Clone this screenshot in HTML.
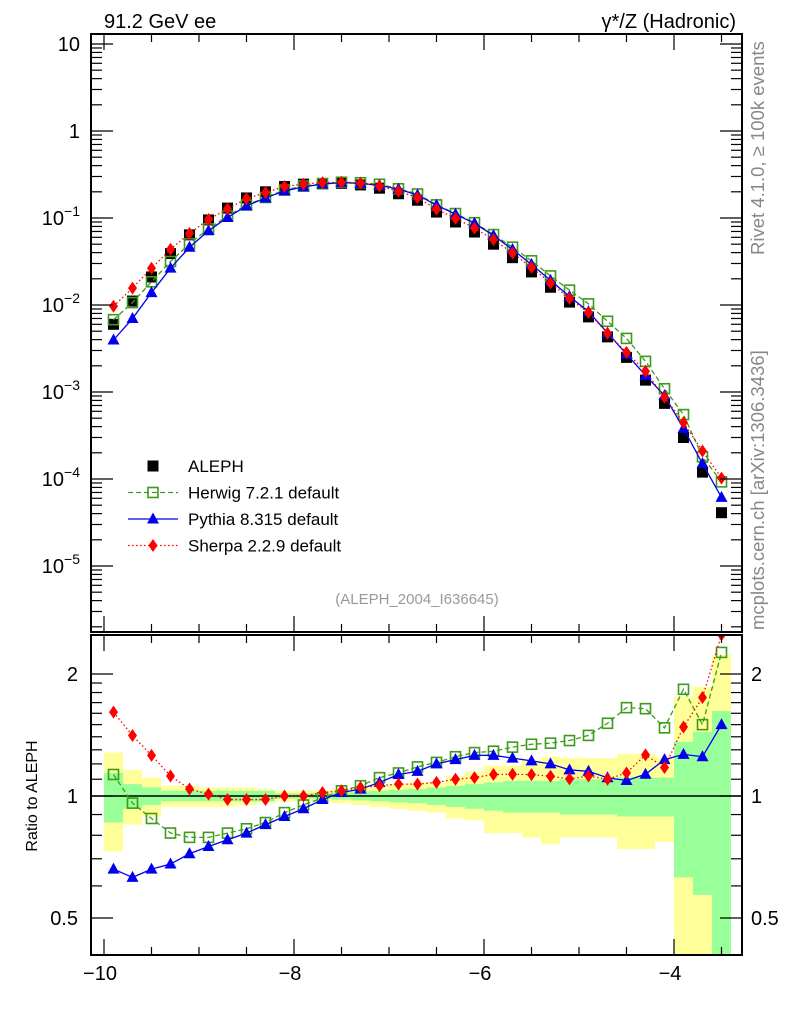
<!DOCTYPE html>
<html><head><meta charset="utf-8"><style>
body{margin:0;background:#fff}
svg{display:block;font-family:"Liberation Sans",sans-serif}
</style></head><body>
<svg id="c" width="786" height="1024" viewBox="0 0 786 1024"></svg>
<script>
const xs=[-9.9,-9.7,-9.5,-9.3,-9.1,-8.9,-8.7,-8.5,-8.3,-8.1,-7.9,-7.7,-7.5,-7.3,-7.1,-6.9,-6.7,-6.5,-6.3,-6.1,-5.9,-5.7,-5.5,-5.3,-5.1,-4.9,-4.7,-4.5,-4.3,-4.1,-3.9,-3.7,-3.5];
const aleph=[0.0060,0.0111,0.021,0.039,0.064,0.095,0.13,0.17,0.20,0.23,0.245,0.25,0.25,0.24,0.22,0.19,0.16,0.117,0.090,0.069,0.050,0.035,0.024,0.016,0.0108,0.0073,0.0043,0.0025,0.00137,0.00074,0.00030,0.00012,0.000041];
const herwig=[0.00678,0.01066,0.01848,0.0316,0.0506,0.0751,0.1053,0.1411,0.172,0.2093,0.2328,0.2475,0.2575,0.2544,0.2442,0.2166,0.1888,0.1416,0.1125,0.0883,0.0645,0.0462,0.0322,0.0216,0.0148,0.0103,0.0065,0.00413,0.00225,0.00109,0.00055,0.00018,0.0000927];
const pythia=[0.00396,0.00699,0.01386,0.0265,0.0461,0.0713,0.1014,0.1377,0.170,0.2047,0.2279,0.245,0.255,0.2496,0.2376,0.2147,0.184,0.1404,0.1107,0.0869,0.063,0.0434,0.0293,0.0192,0.01253,0.0084,0.00477,0.00273,0.00155,0.00091,0.00038,0.00015,0.0000615];
const sherpa=[0.00966,0.01565,0.02646,0.0437,0.0666,0.0960,0.1274,0.1666,0.196,0.23,0.245,0.255,0.2575,0.252,0.2332,0.2033,0.1712,0.1264,0.099,0.0766,0.0565,0.0396,0.0271,0.0179,0.0119,0.00818,0.00473,0.00285,0.00173,0.00087,0.000444,0.00021,0.0001025];
const yelUp=[1.28,1.16,1.11,1.06,1.06,1.05,1.05,1.05,1.04,1.03,1.03,1.03,1.04,1.05,1.06,1.07,1.08,1.08,1.12,1.15,1.19,1.19,1.23,1.25,1.24,1.24,1.24,1.27,1.27,1.25,1.76,1.86,2.23];
const yelDn=[0.73,0.85,0.89,0.94,0.94,0.94,0.94,0.95,0.96,0.97,0.97,0.97,0.96,0.95,0.94,0.93,0.92,0.91,0.88,0.87,0.81,0.81,0.79,0.76,0.79,0.79,0.79,0.74,0.74,0.77,0.3,0.3,0.3];
const grnUp=[1.14,1.07,1.05,1.03,1.03,1.03,1.03,1.03,1.03,1.015,1.015,1.015,1.02,1.025,1.03,1.035,1.04,1.05,1.06,1.07,1.08,1.09,1.09,1.09,1.10,1.10,1.10,1.11,1.11,1.11,1.36,1.44,1.62];
const grnDn=[0.86,0.93,0.95,0.97,0.97,0.97,0.97,0.97,0.97,0.985,0.985,0.985,0.98,0.975,0.97,0.965,0.96,0.95,0.94,0.93,0.92,0.91,0.91,0.91,0.90,0.90,0.90,0.89,0.89,0.89,0.63,0.57,0.3];
const xTicks=[-10,-8,-6,-4];
const yMainTicks=[1,0,-1,-2,-3,-4,-5];
const yRatioTicks=[2,1,0.5];

const NS="http://www.w3.org/2000/svg", svg=document.getElementById('c');
const L=91,R=742,T=34,B=632,RT=635,RB=955;
const X=v=>104+(v+10)*95;
const Y=v=>131-Math.log10(v)*87;
const YR=v=>796-Math.log2(v)*122;
function el(t,a,p){const e=document.createElementNS(NS,t);for(const k in a)e.setAttribute(k,a[k]);(p||svg).appendChild(e);return e;}
function txt(s,a,p){const e=el('text',a,p);e.textContent=s;return e;}

const bands=el('g',{});


const clip=el('clipPath',{id:'rc'});el('rect',{x:L,y:RT,width:R-L,height:RB-RT},clip);
bands.setAttribute('clip-path','url(#rc)');
xs.forEach((x,i)=>{
 const r=el('rect',{x:X(x)-9.5,y:YR(yelUp[i]),width:19,height:YR(yelDn[i])-YR(yelUp[i]),fill:'#ffff99'},bands);
 
 
});
xs.forEach((x,i)=>{
 const r=el('rect',{x:X(x)-9.5,y:YR(grnUp[i]),width:19,height:YR(grnDn[i])-YR(grnUp[i]),fill:'#99ff99'},bands);
 
 
});
el('line',{x1:L,x2:R,y1:YR(1),y2:YR(1),stroke:'#000','stroke-width':1.5});

const clipM=el('clipPath',{id:'mc'});el('rect',{x:L,y:T,width:R-L,height:B-T},clipM);

function marker(g,kind,cx,cy){
 if(kind==='sq')el('rect',{x:cx-5.5,y:cy-5.5,width:11,height:11,fill:'#000'},g);
 if(kind==='osq')el('rect',{x:cx-5,y:cy-5,width:10,height:10,fill:'none',stroke:'#3d9a1a','stroke-width':1.6},g);
 if(kind==='tri')el('polygon',{points:`${cx},${cy-6.5} ${cx+6},${cy+4.5} ${cx-6},${cy+4.5}`,fill:'#0000ee'},g);
 if(kind==='dia')el('polygon',{points:`${cx},${cy-6.5} ${cx+4.5},${cy} ${cx},${cy+6.5} ${cx-4.5},${cy}`,fill:'#ff0000'},g);
}
const series=[
 {name:'herwig',vals:herwig,col:'#3d9a1a',dash:'5,3',mk:'osq'},
 {name:'pythia',vals:pythia,col:'#0000ee',dash:'',mk:'tri'},
 {name:'sherpa',vals:sherpa,col:'#ff0000',dash:'1.5,2.5',mk:'dia'}];
const gA=el('g',{'clip-path':'url(#mc)'});


xs.forEach((x,i)=>marker(gA,'sq',X(x),Y(aleph[i])));
series.forEach(s=>{
 const g=el('g',{'clip-path':'url(#mc)'});
 
 
 el('polyline',{points:xs.map((x,i)=>X(x)+','+Y(s.vals[i])).join(' '),fill:'none',stroke:s.col,'stroke-width':1.3,'stroke-dasharray':s.dash},g);
 xs.forEach((x,i)=>marker(g,s.mk,X(x),Y(s.vals[i])));
 const gr=el('g',{'clip-path':'url(#rc)'});
 
 
 el('polyline',{points:xs.map((x,i)=>X(x)+','+YR(s.vals[i]/aleph[i])).join(' '),fill:'none',stroke:s.col,'stroke-width':1.3,'stroke-dasharray':s.dash},gr);
 xs.forEach((x,i)=>marker(gr,s.mk,X(x),YR(s.vals[i]/aleph[i])));
});

el('rect',{x:L,y:T,width:R-L,height:B-T,fill:'none',stroke:'#000','stroke-width':2});
el('rect',{x:L,y:RT,width:R-L,height:RB-RT,fill:'none',stroke:'#000','stroke-width':2});
const ax=el('g',{stroke:'#000','stroke-width':1.2});


for(let v=-10.5;v<=-3.3;v+=0.5){const x=X(v);if(x<L||x>R)continue;const maj=Math.abs(v-Math.round(v/2)*2)<0.01;const len=maj?16:8;
 [T,RT].forEach(t=>el('line',{x1:x,x2:x,y1:t,y2:t+len},ax));[B,RB].forEach(b=>el('line',{x1:x,x2:x,y1:b,y2:b-len},ax));}
xTicks.forEach(v=>{const t=txt('−'+Math.abs(v),{x:X(v)-4,y:980,'font-size':20,'text-anchor':'middle'});
 });
const ay=el('g',{stroke:'#000','stroke-width':1.2});


for(let d=-6;d<=1;d++)for(let m=1;m<10;m++){const y=Y(m*Math.pow(10,d));if(y<T||y>B)continue;const len=m===1?22:11;
 el('line',{x1:L,x2:L+len,y1:y,y2:y},ay);el('line',{x1:R,x2:R-len,y1:y,y2:y},ay);}
yMainTicks.forEach(d=>{const y=Y(Math.pow(10,d));let t;
 if(d===1)t=txt('10',{x:80,y:y+7,'font-size':20,'text-anchor':'end'});
 else if(d===0)t=txt('1',{x:80,y:y+7,'font-size':20,'text-anchor':'end'});
 else{t=el('text',{x:80,y:y+7,'font-size':20,'text-anchor':'end'});const a=el('tspan',{},t);a.textContent='10';const b=el('tspan',{dy:-9,'font-size':14},t);b.textContent='−'+Math.abs(d);}
 });
const ar=el('g',{stroke:'#000','stroke-width':1.2});


[0.5,0.6,0.7,0.8,0.9,1,1.1,1.2,1.3,1.4,1.5,1.6,1.7,1.8,1.9,2].forEach(v=>{const y=YR(v);const maj=(v===0.5||v===1||v===2);const len=maj?22:11;
 el('line',{x1:L,x2:L+len,y1:y,y2:y},ar);el('line',{x1:R,x2:R-len,y1:y,y2:y},ar);});
yRatioTicks.forEach(v=>{const y=YR(v);
 const a=txt(String(v),{x:78,y:y+7,'font-size':20,'text-anchor':'end'});
 const b=txt(String(v),{x:751,y:y+7,'font-size':20});});

const lg=el('g',{});


const leg=[['ALEPH','sq','',''],['Herwig 7.2.1 default','osq','#3d9a1a','5,3'],['Pythia 8.315 default','tri','#0000ee',''],['Sherpa 2.2.9 default','dia','#ff0000','1.5,2.5']];
leg.forEach((l,i)=>{const y=466+i*26.5;const g=el('g',{},lg);
 
 
 if(l[2])el('line',{x1:128,x2:178,y1:y,y2:y,stroke:l[2],'stroke-width':1.3,'stroke-dasharray':l[3]},g);
 marker(g,l[1],153,y);
 txt(l[0],{x:188,y:y+6,'font-size':17},g);});
</script>
<svg width="786" height="1024" style="position:absolute;left:0;top:0">
<text x="104" y="28" font-size="20" font-family="Liberation Sans,sans-serif">91.2 GeV ee</text>
<text x="736" y="28" font-size="20" text-anchor="end" font-family="Liberation Sans,sans-serif">γ*/Z (Hadronic)</text>
<text x="417" y="604" font-size="15" fill="#999" text-anchor="middle" font-family="Liberation Sans,sans-serif">(ALEPH_2004_I636645)</text>
<text transform="translate(764,255) rotate(-90)" font-size="18.5" fill="#888" font-family="Liberation Sans,sans-serif">Rivet 4.1.0, ≥ 100k events</text>
<text transform="translate(764,630) rotate(-90)" font-size="18.5" fill="#888" font-family="Liberation Sans,sans-serif">mcplots.cern.ch [arXiv:1306.3436]</text>
<text transform="translate(37,796) rotate(-90)" font-size="16" text-anchor="middle" font-family="Liberation Sans,sans-serif">Ratio to ALEPH</text>
</svg>
</body></html>
